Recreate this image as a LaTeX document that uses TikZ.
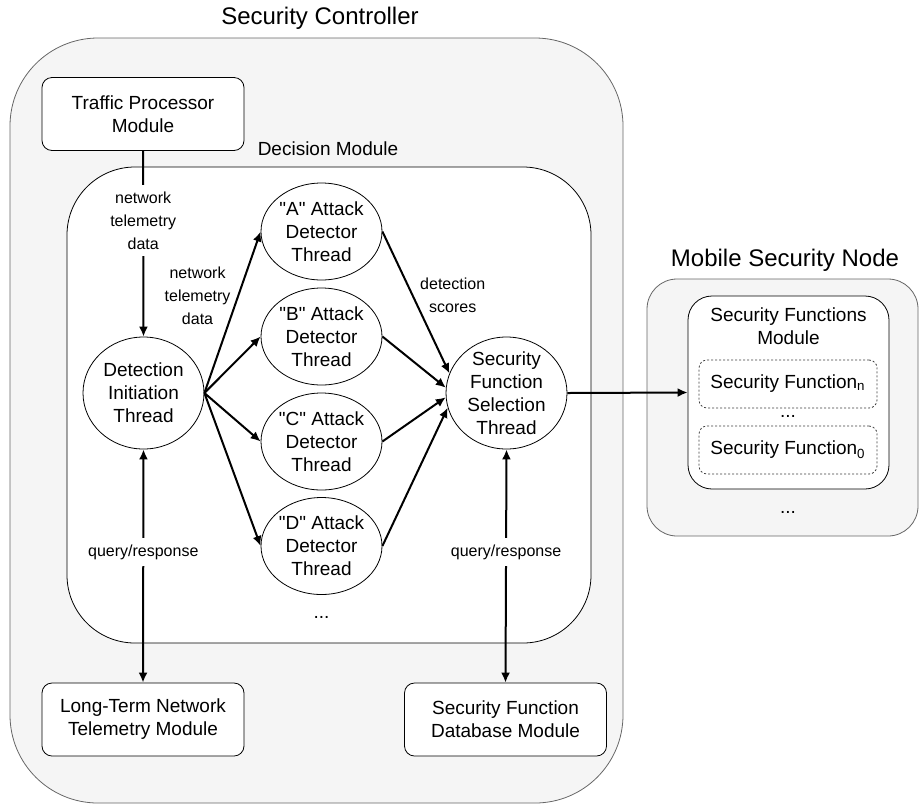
\documentclass[tikz,border=0pt]{standalone}
\usepackage{fontspec}
\setmainfont{Liberation Sans}
\usetikzlibrary{shapes.geometric,arrows.meta}
\definecolor{shellgray}{HTML}{F5F5F5}
\definecolor{shelledge}{HTML}{666666}

\begin{document}
\begin{tikzpicture}[x=0.5pt,y=-0.5pt,
  every node/.style={font=\fontsize{9.5}{11.5}\selectfont},
  module/.style={draw, fill=white, rounded corners=5pt, align=center, minimum width=101pt, minimum height=36.5pt, inner sep=0pt},
  thread/.style={draw, fill=white, ellipse, inner sep=0pt, minimum width=60.5pt, minimum height=48.5pt},
  bigthread/.style={thread, minimum height=56pt},
  txt/.style={align=center, inner sep=0pt},
  small/.style={font=\fontsize{8}{11.5}\selectfont, align=center},
  heading/.style={font=\fontsize{12}{14}\selectfont},
  flow/.style={line width=1pt, -{Latex[length=5pt,width=4.5pt]}},
  both/.style={line width=1pt, {Latex[length=5pt,width=4.5pt]}-{Latex[length=5pt,width=4.5pt]}},
  sfunc/.style={draw=black!75, dash pattern=on 1pt off 1pt, rounded corners=4pt, minimum width=89pt, minimum height=24pt, inner sep=0pt}
]
\useasboundingbox (0,0) rectangle (919,804);

\draw[fill=shellgray, draw=shelledge, rounded corners=44pt] (10,38) rectangle (623,803);
\node[heading] (sctitle) at (320,18) {Security Controller};
\draw[fill=white, rounded corners=34pt] (67,167) rectangle (591,643);
\node (dmtitle) at (328,149) {Decision Module};

\draw[fill=shellgray, draw=shelledge, rounded corners=15pt] (647,279) rectangle (918,536);
\node[heading] (msntitle) at (785,260) {Mobile Security Node};

\node[module] (tpm) at (143,114) {Traffic Processor\\Module};
\node[module] (ltm) at (143,719.5) {Long-Term Network\\Telemetry Module};
\node[module] (sfdb) at (505.5,719.5) {Security Function\\Database Module};

\node[bigthread, label={[txt]center:Detection\\Initiation\\Thread}] (dit) at (143.5,393) {};
\node[thread, label={[txt]center:\textquotedbl A\textquotedbl{} Attack\\Detector\\Thread}] (atA) at (321.5,231.5) {};
\node[thread, label={[txt]center:\textquotedbl B\textquotedbl{} Attack\\Detector\\Thread}] (atB) at (321.5,336.5) {};
\node[thread, label={[txt]center:\textquotedbl C\textquotedbl{} Attack\\Detector\\Thread}] (atC) at (321.5,441.5) {};
\node[thread, label={[txt]center:\textquotedbl D\textquotedbl{} Attack\\Detector\\Thread}] (atD) at (321.5,546) {};
\node (atdots) at (321.5,617) {...};
\node[bigthread, label={[txt]center:Security\\Function\\Selection\\Thread}] (sfst) at (506.5,393) {};

\node[draw, fill=white, rounded corners=12pt, minimum width=100.5pt, minimum height=96.5pt] (sfm) at (788.5,392.5) {};
\node[txt] (sfmtitle) at (788.5,326) {Security Functions\\Module};
\node[sfunc] (sfn) at (788,384) {Security Function\textsubscript{n}};
\node (sfdots) at (788,416) {...};
\node[sfunc] (sf0) at (788,450) {Security Function\textsubscript{0}};
\node (msndots) at (788,512) {...};

\draw[flow] (tpm.south) -- node[small, fill=white, pos=0.374] {network\\telemetry\\data} (dit.north);
\draw[flow] (dit.east) -- node[small, pos=0.6, anchor=east] {network\\telemetry\\data} (atA.west);
\draw[flow] (dit.east) -- (atB.west);
\draw[flow] (dit.east) -- (atC.west);
\draw[flow] (dit.east) -- (atD.west);
\draw[flow] (atA.east) -- node[small, pos=0.45, anchor=west] {detection\\scores} (sfst.161);
\draw[flow] (atB.east) -- (sfst.175);
\draw[flow] (atC.east) -- (sfst.184);
\draw[flow] (atD.east) -- (sfst.194);
\draw[flow] (sfst.east) -- (sfm.west);
\draw[both] (dit.south) -- node[small, fill=white, pos=0.44] {query/response} (ltm.north);
\draw[both] (sfst.south) -- node[small, fill=white, pos=0.44] {query/response} (sfdb.north);
\end{tikzpicture}
\end{document}
